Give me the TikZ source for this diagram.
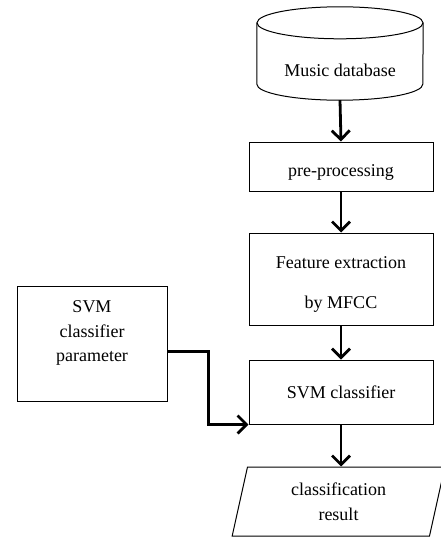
\documentclass[tikz,border=0pt]{standalone}
\usepackage{fontspec}
\setmainfont{Liberation Serif}
\usetikzlibrary{arrows.meta,shapes.geometric,positioning}

\tikzset{
  box/.style={draw, line width=1pt, minimum width=184pt, align=center},
  flow/.style={line width=2.8pt, -{Straight Barb[length=9pt,width=18pt]}},
}

\begin{document}
\begin{tikzpicture}[x=1pt,y=-1pt,font=\fontsize{18}{24.5}\selectfont]
  \useasboundingbox (0,0) rectangle (441,538);
  % database drum
  \node[minimum width=166pt, minimum height=93pt, inner sep=0pt] (db) at (340,53.5) {};
  \draw[line width=1pt] ([yshift=-16pt]db.north west) -- ([yshift=16pt]db.south west)
    arc[start angle=180, end angle=360, x radius=83pt, y radius=16pt]
    -- ([yshift=-16pt]db.north east);
  \draw[line width=1pt] ([yshift=-16pt]db.north) ellipse [x radius=83pt, y radius=16pt];
  \node (dbname) at (340,70) {Music database};

  \node[box, minimum height=49pt, text height=24.5pt, text depth=4pt] (pre) at (341,166.5) {pre-processing};
  \node[box, minimum height=92pt] (feat) at (341,279) {\rule{0pt}{22.5pt}Feature extraction\\[15.5pt]by MFCC};
  \node[box, minimum height=64pt] (svm) at (341,392) {SVM classifier};
  \node[box, minimum width=150pt, minimum height=115pt] (param) at (92,343.5)
       {SVM\\classifier\\parameter\\\mbox{}};
  \node[trapezium, draw, line width=1pt, trapezium left angle=79, trapezium right angle=101,
        trapezium stretches=true, minimum width=213pt, minimum height=69pt, align=center]
       (res) at (338.5,501.5) {classification\\result};

  \draw[flow] (db.south) -- (pre.north);
  \draw[flow] (pre.south) -- (feat.north);
  \draw[flow] (feat.south) -- (svm.north);
  \draw[flow] (svm.south) -- (svm.south |- res.north);
  \draw[flow] ([yshift=-8pt]param.east) -- ++(41,0) |- (svm.south west);
\end{tikzpicture}
\end{document}
